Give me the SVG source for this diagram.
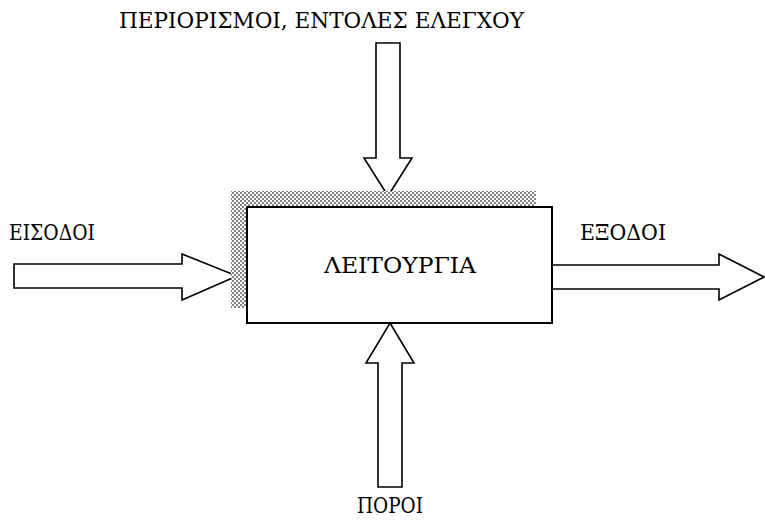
<svg xmlns="http://www.w3.org/2000/svg" width="765" height="524" viewBox="0 0 765 524">
  <defs>
    <!-- fine grey/white checker used for the drop shadow -->
    <pattern id="checker" width="4" height="4" patternUnits="userSpaceOnUse">
      <rect width="4" height="4" fill="#ffffff"/>
      <rect width="2" height="2" fill="#808080"/>
      <rect x="2" y="2" width="2" height="2" fill="#808080"/>
    </pattern>
  </defs>
  <style>
    .lbl { font-family: "DejaVu Serif Condensed", "DejaVu Serif", "Liberation Serif", serif; font-size: 22px; fill: #000; }
    .arrow { fill: #fff; stroke: #000; stroke-width: 1.6; stroke-linejoin: miter; }
    .box { fill: #fff; stroke: #000; stroke-width: 2; }
  </style>
  <rect width="765" height="524" fill="#fff"/>

  <!-- block arrows -->
  <g id="connectors">
    <!-- inputs, from the left -->
    <polygon class="arrow" points="14,264 182,264 182,254 237,276 182,300 182,288 14,288"/>
    <!-- constraints, from above -->
    <polygon class="arrow" points="376,43 400,43 400,158 412,158 388,196 364,158 376,158"/>
    <!-- outputs, to the right -->
    <polygon class="arrow" points="552,265 719,265 719,254 764,277 719,300 719,289 552,289"/>
    <!-- resources, from below -->
    <polygon class="arrow" points="390,323 414,363 402,363 402,487 378,487 378,363 366,363"/>
  </g>

  <!-- function box with checkered shadow -->
  <g id="function">
    <rect x="231" y="191" width="305" height="117" fill="url(#checker)"/>
    <rect class="box" x="247" y="207" width="305" height="116"/>
    <text class="lbl" x="324" y="273" textLength="152" lengthAdjust="spacingAndGlyphs">ΛΕΙΤΟΥΡΓΙΑ</text>
  </g>

  <g id="label-controls">
    <text class="lbl" x="119" y="28" textLength="405" lengthAdjust="spacingAndGlyphs">ΠΕΡΙΟΡΙΣΜΟΙ, ΕΝΤΟΛΕΣ ΕΛΕΓΧΟΥ</text>
  </g>
  <g id="label-inputs">
    <text class="lbl" x="9" y="240" textLength="86" lengthAdjust="spacingAndGlyphs">ΕΙΣΟΔΟΙ</text>
  </g>
  <g id="label-outputs">
    <text class="lbl" x="580" y="240" textLength="86" lengthAdjust="spacingAndGlyphs">ΕΞΟΔΟΙ</text>
  </g>
  <g id="label-resources">
    <text class="lbl" x="357" y="513" textLength="66" lengthAdjust="spacingAndGlyphs">ΠΟΡΟΙ</text>
  </g>
</svg>
